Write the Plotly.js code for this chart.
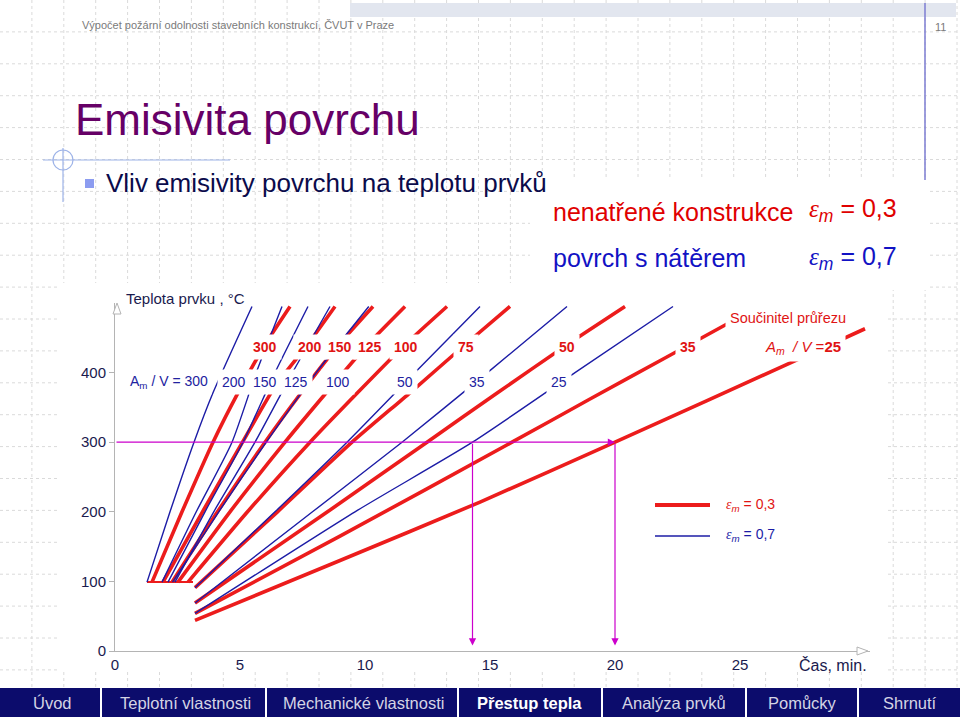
<!DOCTYPE html>
<html><head><meta charset="utf-8">
<script src="https://cdn.plot.ly/plotly-3.0.1.min.js"></script>
<style>html,body{margin:0;padding:0;background:#fff;}#chart{width:960px;height:720px;}</style>
</head><body><div id="chart"></div>
<script>
// ---------------- DATA ----------------
const xTicks = [0, 5, 10, 15, 20, 25];
const yTicks = [0, 100, 200, 300, 400];

// eps_m = 0.3 (red), section factor Am/V
const red300_t = [1.48, 2.68, 3.92, 4.92, 6.0, 7.0];
const red300_T = [99, 200, 300, 371, 440, 495];
const red200_t = [1.92, 3.5, 5.1, 6.4, 7.7, 8.8];
const red200_T = [99, 200, 300, 380, 440, 495];
const red150_t = [2.28, 4.1, 6.0, 7.45, 8.95, 10.32];
const red150_T = [99, 200, 300, 371, 440, 495];
const red125_t = [2.52, 4.6, 6.8, 8.45, 10.1, 11.6];
const red125_T = [99, 200, 300, 371, 440, 495];
const red100_t = [2.92, 5.3, 7.8, 9.7, 11.6, 13.28];
const red100_T = [99, 200, 300, 371, 440, 495];
const red75_t = [3.2, 6.5, 9.48, 11.8, 14.0, 15.8];
const red75_T = [91, 200, 300, 371, 440, 495];
const red50_t = [3.2, 8.5, 12.48, 15.3, 18.08, 20.4];
const red50_T = [69, 200, 300, 371, 440, 495];
const red35_t = [3.2, 9.0, 15.88, 19.0, 22.0, 25.5];
const red35_T = [54, 165, 300, 362, 421, 490];
const red25_t = [3.2, 9.0, 14.6, 20.0, 27.5, 30.0];
const red25_T = [44, 130, 214, 300, 422, 463];

// eps_m = 0.7 (blue)
const blue300_t = [1.28, 2.2, 3.16, 3.92, 5.48];
const blue300_T = [99, 200, 300, 371, 495];
const blue200_t = [1.88, 3.25, 4.68, 5.65, 6.68];
const blue200_T = [99, 200, 300, 400, 495];
const blue150_t = [2.12, 3.6, 5.12, 6.4, 7.72];
const blue150_T = [99, 200, 300, 400, 495];
const blue125_t = [2.4, 3.95, 5.6, 7.1, 8.6];
const blue125_T = [99, 200, 300, 400, 495];
const blue100_t = [2.3, 4.15, 6.05, 8.05, 10.15];
const blue100_T = [99, 200, 300, 400, 495];
const blue50_t = [3.2, 6.4, 9.28, 12.0, 14.6];
const blue50_T = [91, 200, 300, 400, 495];
const blue35_t = [3.2, 7.9, 11.48, 14.9, 18.08];
const blue35_T = [69, 200, 300, 400, 495];
const blue25_t = [3.2, 9.6, 14.3, 18.4, 22.32];
const blue25_T = [54, 200, 300, 400, 495];

// start segment at ~100 °C
const base_t = [1.28, 3.12];
const base_T = [99, 99];

// read-off example: 300 °C for Am/V = 25
const readTemp = 300;
const readTimes = [14.3, 20.0];

const redLabels = ['300', '200', '150', '125', '100', '75', '50', '35'];
const blueLabels = ['300', '200', '150', '125', '100', '50', '35', '25'];
const navItems = ['Úvod', 'Teplotní vlastnosti', 'Mechanické vlastnosti', 'Přestup tepla', 'Analýza prvků', 'Pomůcky', 'Shrnutí'];

// ---------------- STYLE / LAYOUT ----------------
const FONT = "'Liberation Sans Narrow', 'Arial Narrow', 'Liberation Sans', Arial, sans-serif";
const SERIF = "'Liberation Serif', 'Times New Roman', serif";
const RED = '#ec1c1c', BLUE = '#1c1ca6', NAVY = '#1a1a4e', MAG = '#cc00cc';
const L = 115, R = 870, TOP = 303, BOT = 651;
const PW = R - L, PH = BOT - TOP;
const px = x => (x - L) / PW;
const py = y => (BOT - y) / PH;

const redSeries = [
  [red300_t, red300_T], [red200_t, red200_T], [red150_t, red150_T], [red125_t, red125_T],
  [red100_t, red100_T], [red75_t, red75_T], [red50_t, red50_T], [red35_t, red35_T], [red25_t, red25_T]
];
const blueSeries = [
  [blue300_t, blue300_T], [blue200_t, blue200_T], [blue150_t, blue150_T], [blue125_t, blue125_T],
  [blue100_t, blue100_T], [blue50_t, blue50_T], [blue35_t, blue35_T], [blue25_t, blue25_T]
];

const traces = [];
traces.push({x: base_t, y: base_T, mode: 'lines', line: {color: RED, width: 2}, hoverinfo: 'skip', showlegend: false});
redSeries.forEach(s => traces.push({x: s[0], y: s[1], mode: 'lines', line: {color: RED, width: 3.6, shape: 'spline', smoothing: 0.6}, showlegend: false}));
blueSeries.forEach(s => traces.push({x: s[0], y: s[1], mode: 'lines', line: {color: BLUE, width: 1.4, shape: 'spline', smoothing: 0.6}, showlegend: false}));

const shapes = [];
function rectPx(x0, y0, x1, y1, fill, layer) {
  shapes.push({type: 'rect', xref: 'paper', yref: 'paper', x0: px(x0), x1: px(x1), y0: py(y0), y1: py(y1),
    fillcolor: fill, line: {width: 0}, layer: layer || 'below'});
}
function linePx(x0, y0, x1, y1, color, width, dash, layer) {
  shapes.push({type: 'line', xref: 'paper', yref: 'paper', x0: px(x0), x1: px(x1), y0: py(y0), y1: py(y1),
    line: {color: color, width: width, dash: dash || 'solid'}, layer: layer || 'below'});
}
// background dotted grid of the slide
for (let k = 1; k * 31.9 < 960; k++) linePx(k * 31.9, 0, k * 31.9, 688, '#dadada', 1, 'dot');
for (let k = 1; k * 31.9 < 688; k++) linePx(0, k * 31.9, 960, k * 31.9, '#dadada', 1, 'dot');
// white panels
rectPx(60, 283, 885, 672, '#ffffff');
rectPx(530, 180, 928, 290, '#ffffff');
// header band and rules
rectPx(350, 3, 956, 17, '#e2e6ef');
linePx(925, 3, 925, 180, '#7c7cd2', 1.5);
linePx(43, 160, 230, 160, '#9db3e8', 1.2);
linePx(63, 148, 63, 202, '#9db3e8', 1.2);
shapes.push({type: 'circle', xref: 'paper', yref: 'paper', x0: px(53), x1: px(73), y0: py(150), y1: py(170),
  line: {color: '#9db3e8', width: 1.2}, layer: 'below'});
rectPx(85, 179, 94, 188, '#8c9cf0');
// nav bar
rectPx(0, 688, 960, 717, '#0c0c6c', 'above');
[101, 266, 458, 602, 746, 858].forEach(x => linePx(x, 688, x, 717, '#ffffff', 2, 'solid', 'above'));
// axis arrow tips (open)
function pathPx(pts) {
  return 'M' + pts.map(p => px(p[0]) + ',' + py(p[1])).join(' L') + ' Z';
}
shapes.push({type: 'path', xref: 'paper', yref: 'paper', path: pathPx([[113, 314], [117, 303], [121, 314]]),
  line: {color: '#b4b4b4', width: 1}, fillcolor: '#ffffff', layer: 'above'});
shapes.push({type: 'path', xref: 'paper', yref: 'paper', path: pathPx([[857, 647], [868, 651], [857, 655]]),
  line: {color: '#b4b4b4', width: 1}, fillcolor: '#ffffff', layer: 'above'});
// legend samples
linePx(655, 505, 710, 505, RED, 4, 'solid', 'above');
linePx(655, 536, 710, 536, BLUE, 1.5, 'solid', 'above');

const ann = [];
function text(x, y, s, size, color, opts) {
  const o = Object.assign({xanchor: 'left', yanchor: 'middle', family: FONT}, opts || {});
  const a = {xref: 'paper', yref: 'paper', x: px(x), y: py(y), text: s, showarrow: false,
    xanchor: o.xanchor, yanchor: o.yanchor, font: {family: o.family, size: size, color: color}};
  if (o.bg) { a.bgcolor = '#ffffff'; a.borderpad = o.pad || 2; }
  ann.push(a);
}
const eps = v => "<span style=\"font-family:" + SERIF.replace(/"/g, '') + "\"><i>ε</i></span><sub><i>m</i></sub> = " + v;

text(80, 25, 'Výpočet požární odolnosti stavebních konstrukcí, ČVUT v Praze', 11, '#7a7a7a');
text(940, 27, '11', 11, '#7a7a7a', {xanchor: 'center'});
text(73, 119, 'Emisivita povrchu', 44, '#660066');
text(104, 183, 'Vliv emisivity povrchu na teplotu prvků', 26, '#0b0b4b');
text(551, 212, 'nenatřené konstrukce', 25, '#e00000');
text(807, 210, eps('0,3'), 25, '#e00000');
text(551, 258, 'povrch s nátěrem', 25, '#1212c4');
text(807, 258, eps('0,7'), 25, '#1212c4');
text(124, 298, 'Teplota prvku , °C', 15, NAVY);
text(797, 665, 'Čas, min.', 16, NAVY);

// curve labels
const redLabelX = [265, 310, 340, 370, 406, 466, 567, 688];
redLabels.forEach((s, i) => text(redLabelX[i], 347, '<b>' + s + '</b>', 14, '#e01414', {xanchor: 'center', bg: true, pad: 4}));
const blueLabelX = [234, 265, 296, 338, 405, 477, 559];
text(126, 382, 'A<sub>m</sub> / V = ' + blueLabels[0], 14, '#2222a0', {bg: true, pad: 3});
blueLabels.slice(1).forEach((s, i) => text(blueLabelX[i], 382, s, 14, '#2222a0', {xanchor: 'center', bg: true, pad: 4}));
text(725, 318, 'Součinitel průřezu', 14.5, '#e01414', {bg: true, pad: 4});
text(760, 347, '<i>A<sub>m</sub></i>  <i>/ V</i> =<b>25</b>', 15, '#e01414', {bg: true, pad: 4});

// legend texts
text(724, 505, eps('0,3'), 14, '#e01414');
text(724, 535, eps('0,7'), 14, '#1c1ca6');

// nav
const navX = [52, 185, 363, 529, 674, 802, 910];
navItems.forEach((s, i) => text(navX[i], 703, i === 3 ? '<b>' + s + '</b>' : s, 16.5, i === 3 ? '#ffffff' : '#d4d4e4', {xanchor: 'center'}));

// magenta read-off arrows
ann.push({x: readTimes[1], y: readTemp, ax: 0, ay: readTemp, xref: 'x', yref: 'y', axref: 'x', ayref: 'y',
  text: '', showarrow: true, arrowhead: 2, arrowsize: 1.2, arrowwidth: 1.2, arrowcolor: MAG, standoff: 0});
readTimes.forEach(t => ann.push({x: t, y: 8, ax: t, ay: readTemp, xref: 'x', yref: 'y', axref: 'x', ayref: 'y',
  text: '', showarrow: true, arrowhead: 2, arrowsize: 1.2, arrowwidth: 1.2, arrowcolor: MAG, standoff: 0}));

const layout = {
  width: 960, height: 720,
  margin: {l: L, r: 960 - R, t: TOP, b: 720 - BOT},
  paper_bgcolor: '#ffffff', plot_bgcolor: 'rgba(0,0,0,0)',
  showlegend: false,
  font: {family: FONT, color: NAVY},
  xaxis: {range: [0, 30.2], tickvals: xTicks, showgrid: false, zeroline: false, showline: true,
    linecolor: '#b4b4b4', linewidth: 1, ticks: '', tickfont: {size: 15, color: NAVY, family: FONT}},
  yaxis: {range: [0, 500], tickvals: yTicks, showgrid: false, zeroline: false, showline: true,
    linecolor: '#b4b4b4', linewidth: 1, ticks: 'outside', ticklen: 5, tickcolor: '#b4b4b4',
    tickfont: {size: 15, color: NAVY, family: FONT}},
  shapes: shapes,
  annotations: ann
};
Plotly.newPlot('chart', traces, layout, {displayModeBar: false, staticPlot: true});
</script></body></html>
